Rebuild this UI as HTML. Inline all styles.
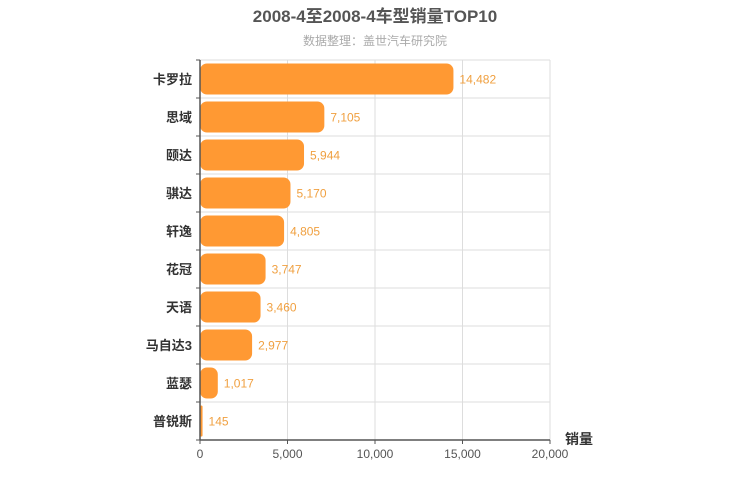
<!DOCTYPE html>
<html><head><meta charset="utf-8">
<style>
body{margin:0;background:#fff;}
svg{display:block;font-family:"Liberation Sans","Noto Sans CJK SC",sans-serif;}
</style></head><body>
<svg id="chart" width="750" height="500">
<text x="375" y="22" text-anchor="middle" font-size="17" font-weight="bold" fill="#555">2008-4至2008-4车型销量TOP10</text>
<text x="375" y="45" text-anchor="middle" font-size="12" fill="#aaa">数据整理：盖世汽车研究院</text>
<g id="grid"></g><g id="bars"></g><g id="axes"></g>
</svg>
<script>
const categories=["卡罗拉","思域","颐达","骐达","轩逸","花冠","天语","马自达3","蓝瑟","普锐斯"];
const values=[14482,7105,5944,5170,4805,3747,3460,2977,1017,145];
const xTicks=[0,5000,10000,15000,20000];
const NS="http://www.w3.org/2000/svg";
const X0=200,X1=550,Y0=60,Y1=440,XMAX=20000;
const xs=v=>X0+(v/XMAX)*(X1-X0);
const rowH=(Y1-Y0)/categories.length;
const ys=i=>Y0+i*rowH;
function mk(tag,attrs,parent,text){const e=document.createElementNS(NS,tag);for(const k in attrs)e.setAttribute(k,attrs[k]);if(text!==undefined)e.textContent=text;parent.appendChild(e);return e;}
const grid=document.getElementById('grid'),bars=document.getElementById('bars'),axes=document.getElementById('axes');
xTicks.forEach(t=>{
  const l=mk('line',{x1:xs(t),x2:xs(t),y1:Y0,y2:Y1,stroke:'#ddd','stroke-width':1},grid);
  
  
  const tk=mk('line',{x1:xs(t),x2:xs(t),y1:Y1,y2:Y1+4,stroke:'#555'},axes);
  
  
  const tx=mk('text',{x:xs(t),y:Y1+18,'text-anchor':'middle','font-size':12,fill:'#555'},axes,t.toLocaleString('en-US'));
  
  
});
categories.forEach((c,i)=>{
  const y=ys(i);
  const g=mk('line',{x1:X0,x2:X1,y1:y+rowH,y2:y+rowH,stroke:'#ddd'},grid);
  
  
  if(i===0){const g0=mk('line',{x1:X0,x2:X1,y1:y,y2:y,stroke:'#ddd'},grid);}
  const w=Math.max(xs(values[i])-X0,1);
  const r=Math.min(7,w/2);
  const b=mk('rect',{x:X0,y:y+3.5,width:w,height:rowH-7,rx:r,ry:r,fill:'#ff9933'},bars);
  
  
  const vl=mk('text',{x:X0+w+6,y:y+rowH/2+4.5,'font-size':12,fill:'#f0a040'},bars,values[i].toLocaleString('en-US'));
  
  
  const cl=mk('text',{x:X0-8,y:y+rowH/2+5,'text-anchor':'end','font-size':13,'font-weight':'bold',fill:'#333'},axes,c);
  
  
  const yt=mk('line',{x1:X0-4,x2:X0,y1:y,y2:y,stroke:'#555'},axes);
  
  
});
const yb=mk('line',{x1:X0-4,x2:X0,y1:Y1,y2:Y1,stroke:'#555'},axes);


const ya=mk('line',{x1:X0,x2:X0,y1:Y0,y2:Y1,stroke:'#555','stroke-width':1.5},axes);


const xa=mk('line',{x1:X0,x2:X1,y1:Y1,y2:Y1,stroke:'#555','stroke-width':1.5},axes);


const xt=mk('text',{x:565,y:444,'font-size':14,'font-weight':'bold',fill:'#333'},axes,'销量');


</script>
</body></html>
